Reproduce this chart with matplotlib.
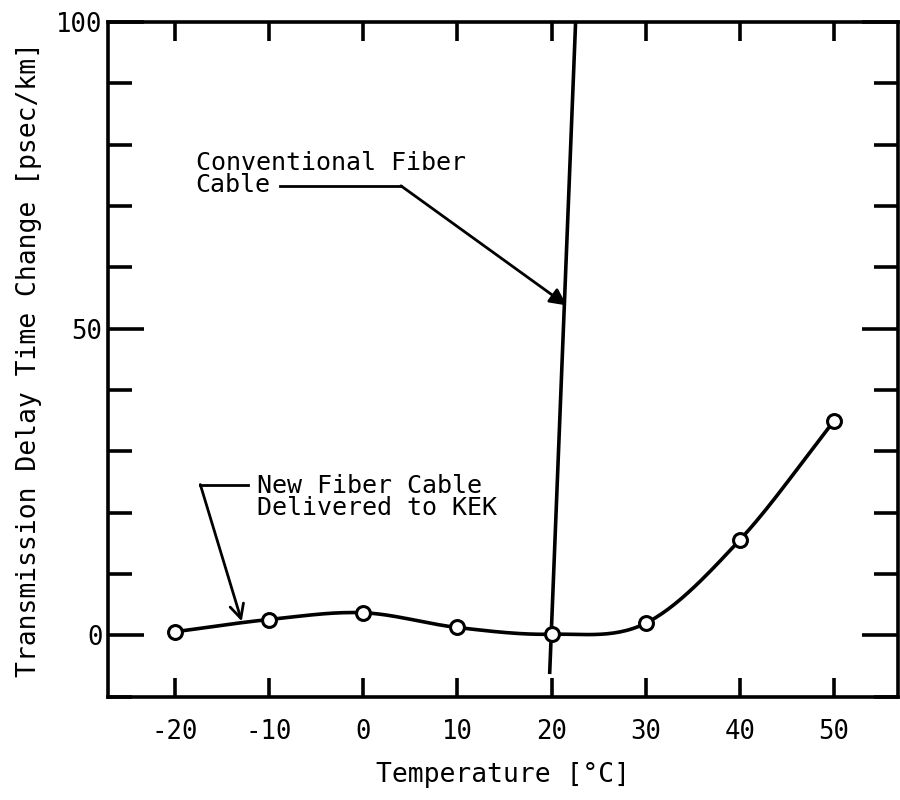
import numpy as np
import matplotlib
matplotlib.use("Agg")
import matplotlib.pyplot as plt
from matplotlib.ticker import MultipleLocator

# Data
temps_new = [-20, -10, 0, 10, 20, 30, 40, 50]
delay_new = [0.6, 2.6, 3.7, 1.3, 0.2, 2.0, 15.6, 35.0]
temps_conv = [19.8, 22.6]
delay_conv = [-6.0, 102.0]
xticks = [-20, -10, 0, 10, 20, 30, 40, 50]
yticks_major = [0, 50, 100]

FONT = "DejaVu Sans Mono"

def catmull_rom(x, y, n=30):
    x = np.asarray(x, float); y = np.asarray(y, float)
    px = np.concatenate([[2*x[0]-x[1]], x, [2*x[-1]-x[-2]]])
    py = np.concatenate([[2*y[0]-y[1]], y, [2*y[-1]-y[-2]]])
    xs, ys = [], []
    t = np.linspace(0, 1, n)
    for i in range(1, len(px)-2):
        for P, out in ((px, xs), (py, ys)):
            p0, p1, p2, p3 = P[i-1], P[i], P[i+1], P[i+2]
            out.extend(0.5*((2*p1) + (-p0+p2)*t + (2*p0-5*p1+4*p2-p3)*t**2 + (-p0+3*p1-3*p2+p3)*t**3))
    return np.array(xs), np.array(ys)

fig = plt.figure(figsize=(9, 8), dpi=100)
ax = fig.add_axes([0.12, 0.129, 0.878, 0.8435])
ax.set_xlim(-27.1, 56.8)
ax.set_ylim(-10, 100)

sx, sy = catmull_rom(temps_new, delay_new)
ax.plot(sx, sy, color="black", lw=2.6, zorder=2)
ax.plot(temps_new, delay_new, linestyle="none", marker="o", ms=10,
        mfc="white", mec="black", mew=2.2, zorder=3)
ax.plot(temps_conv, delay_conv, color="black", lw=2.6, zorder=2, clip_on=True)

for s in ax.spines.values():
    s.set_linewidth(2.6)

ax.set_xticks(xticks)
ax.set_xticklabels([str(v) for v in xticks])
ax.set_yticks(yticks_major)
ax.set_yticklabels([str(v) for v in yticks_major])
ax.yaxis.set_minor_locator(MultipleLocator(10))
ax.tick_params(axis="both", which="both", direction="in", top=True, right=True,
               width=2.6, labelsize=18.5)
ax.tick_params(axis="x", which="major", length=14, pad=16)
ax.tick_params(axis="y", which="major", length=26, pad=4)
ax.tick_params(axis="y", which="minor", length=17)
for lab in ax.get_xticklabels() + ax.get_yticklabels():
    lab.set_family(FONT)

ax.set_xlabel("Temperature [°C]", fontsize=19, family=FONT, labelpad=12)
ax.set_ylabel("Transmission Delay Time Change [psec/km]", fontsize=19, family=FONT, labelpad=10)

# Annotations
ax.text(-17.8, 79.0, "Conventional Fiber\nCable", fontsize=18, family=FONT,
        ha="left", va="top", linespacing=0.9)
ax.plot([-8.8, 4.0], [73.3, 73.3], color="black", lw=2)
ax.annotate("", xy=(21.6, 53.8), xytext=(4.0, 73.3),
            arrowprops=dict(arrowstyle="-|>", color="black", lw=2, mutation_scale=25,
                            shrinkA=0, shrinkB=0))

ax.text(-11.3, 26.4, "New Fiber Cable\nDelivered to KEK", fontsize=18, family=FONT,
        ha="left", va="top", linespacing=0.9)
ax.plot([-17.3, -12.2], [24.6, 24.6], color="black", lw=2)
ax.annotate("", xy=(-12.9, 2.3), xytext=(-17.3, 24.6),
            arrowprops=dict(arrowstyle="->", color="black", lw=2, mutation_scale=25,
                            shrinkA=0, shrinkB=0))

fig.savefig("out.png", dpi=100)
